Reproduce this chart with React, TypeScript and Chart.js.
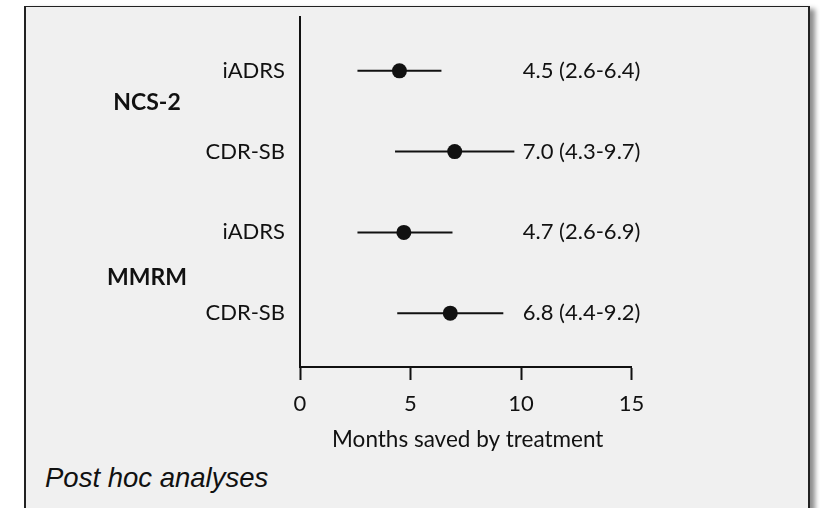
import React, { useEffect, useRef } from "react";
import { Chart, registerables } from "chart.js";

Chart.register(...registerables);

// ---- data ----
const groups = ["NCS-2", "MMRM"];
const measures = ["iADRS", "CDR-SB", "iADRS", "CDR-SB"];
const estimates = [4.5, 7.0, 4.7, 6.8];
const lowerCI = [2.6, 4.3, 2.6, 4.4];
const upperCI = [6.4, 9.7, 6.9, 9.2];
const xTicks = [0, 5, 10, 15];
const axisTitle = "Months saved by treatment";
const footnote = "Post hoc analyses";

const FONT = "Lato";
const INK = "#111111";

const fmt = (v: number) => v.toFixed(1);

const annotationPlugin = {
  id: "forestAnnotations",
  afterDatasetsDraw(chart: any) {
    const { ctx, scales, chartArea } = chart;
    const xs = scales.x;
    const ys = scales.y;
    ctx.save();
    ctx.fillStyle = INK;

    // value labels
    ctx.font = `400 22px ${FONT}`;
    ctx.textAlign = "left";
    ctx.textBaseline = "middle";
    const textX = xs.getPixelForValue(10.08);
    estimates.forEach((e, i) => {
      ctx.fillText(
        `${fmt(e)} (${fmt(lowerCI[i])}-${fmt(upperCI[i])})`,
        textX,
        ys.getPixelForValue(i)
      );
    });

    // group labels
    const groupOffsets = [-9, 5];
    ctx.font = `700 23px ${FONT}`;
    ctx.textAlign = "center";
    groups.forEach((g, gi) => {
      const yMid = ys.getPixelForValue(gi * 2 + 0.5) + groupOffsets[gi];
      ctx.fillText(g, 147, yMid);
    });

    // axis title
    ctx.font = `400 22.5px ${FONT}`;
    ctx.textAlign = "center";
    ctx.fillText(axisTitle, (chartArea.left + chartArea.right) / 2 + 2, chartArea.bottom + 73);
    ctx.restore();
  },
};

export default function App() {
  const canvasRef = useRef<HTMLCanvasElement | null>(null);

  useEffect(() => {
    const canvas = canvasRef.current;
    if (!canvas) return;

    const ciDatasets = measures.map((_, i) => ({
      type: "line" as const,
      data: [
        { x: lowerCI[i], y: i },
        { x: upperCI[i], y: i },
      ],
      showLine: true,
      borderColor: INK,
      borderWidth: 2,
      pointRadius: 0,
      order: 2,
    }));

    const chart = new Chart(canvas, {
      type: "scatter",
      data: {
        datasets: [
          {
            data: estimates.map((e, i) => ({ x: e, y: i })),
            backgroundColor: INK,
            borderColor: INK,
            borderWidth: 0,
            pointRadius: 7.5,
            pointHoverRadius: 7.5,
            order: 0,
          } as any,
          ...ciDatasets,
        ],
      },
      options: {
        animation: false,
        responsive: false,
        maintainAspectRatio: false,
        events: [],
        layout: { padding: { top: 17, right: 188.5, left: 0, bottom: 91 } },
        plugins: {
          legend: { display: false },
          tooltip: { enabled: false },
        },
        scales: {
          x: {
            type: "linear",
            min: 0,
            max: 15,
            afterBuildTicks: (s: any) => {
              s.ticks = xTicks.map((v) => ({ value: v }));
            },
            afterFit: (s: any) => {
              s.height = 50;
              s.paddingLeft = 0;
              s.paddingRight = 0;
            },
            grid: {
              display: true,
              drawOnChartArea: false,
              drawTicks: true,
              tickLength: 13,
              tickWidth: 2,
              tickColor: INK,
            },
            border: { display: true, color: INK, width: 2 },
            ticks: {
              color: INK,
              font: { family: FONT, size: 22 },
              padding: 11,
              maxRotation: 0,
              autoSkip: false,
            },
          },
          y: {
            type: "linear",
            min: -2 / 3,
            max: 11 / 3,
            reverse: true,
            afterBuildTicks: (s: any) => {
              s.ticks = measures.map((_, i) => ({ value: i }));
            },
            afterFit: (s: any) => {
              s.width = 300;
              s.paddingTop = 0;
              s.paddingBottom = 0;
            },
            grid: { display: false, drawTicks: false },
            border: { display: true, color: INK, width: 2 },
            ticks: {
              color: INK,
              font: { family: FONT, size: 22 },
              padding: 15,
              autoSkip: false,
              callback: (v: any) => measures[v as number] ?? "",
            },
          },
        },
      },
      plugins: [annotationPlugin],
    });

    return () => chart.destroy();
  }, []);

  return (
    <div
      style={{
        position: "absolute",
        left: 0,
        top: 0,
        width: 820,
        height: 508,
        overflow: "hidden",
        background: "#ffffff",
      }}
    >
      <div
        style={{
          position: "absolute",
          left: 24,
          top: 6,
          width: 782,
          height: 560,
          background: "#f0f0f0",
          borderLeft: "2px solid #222",
          borderRight: "2px solid #222",
          borderTop: "1.5px solid #222",
          boxShadow: "5px 3px 5px rgba(0,0,0,0.45)",
        }}
      />
      <div
        style={{
          position: "absolute",
          left: 45,
          top: 461,
          fontFamily: "'Liberation Sans', Arial, sans-serif",
          fontStyle: "italic",
          fontSize: 27.5,
          color: INK,
          lineHeight: "34px",
          whiteSpace: "nowrap",
        }}
      >
        {footnote}
      </div>
      <canvas
        ref={canvasRef}
        width={820}
        height={508}
        style={{ position: "absolute", left: 0, top: 0, width: 820, height: 508 }}
      />
    </div>
  );
}
